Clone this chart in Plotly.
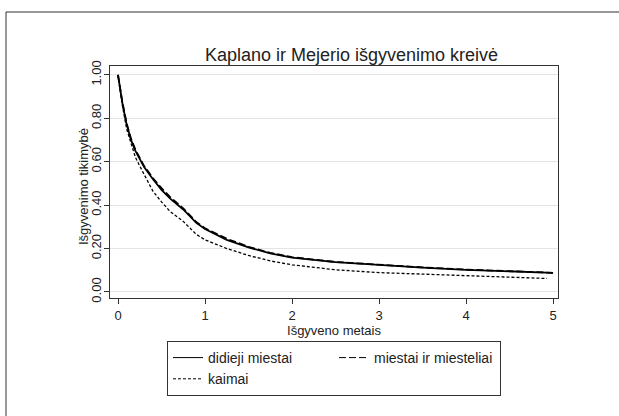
import plotly.graph_objects as go

# Time (years) and survival estimates
t = [0, 0.02, 0.05, 0.1, 0.15, 0.2, 0.25, 0.3, 0.4, 0.5, 0.6, 0.75, 0.9, 1.0,
     1.25, 1.5, 1.75, 2.0, 2.5, 3.0, 3.5, 4.0, 4.5, 5.0]
didieji = [1.0, 0.95, 0.87, 0.77, 0.70, 0.65, 0.61, 0.575, 0.52, 0.47, 0.43, 0.38,
           0.318, 0.29, 0.24, 0.205, 0.178, 0.158, 0.137, 0.124, 0.112, 0.102, 0.095, 0.088]
miestai = [1.0, 0.95, 0.875, 0.775, 0.705, 0.655, 0.615, 0.58, 0.525, 0.478, 0.437, 0.385,
           0.322, 0.293, 0.245, 0.208, 0.18, 0.16, 0.138, 0.125, 0.113, 0.103, 0.095, 0.088]
t_k = [0, 0.02, 0.05, 0.1, 0.15, 0.2, 0.25, 0.3, 0.4, 0.5, 0.6, 0.75, 0.9, 1.0,
       1.25, 1.5, 1.75, 2.0, 2.5, 3.0, 3.5, 4.0, 4.5, 4.93]
kaimai = [1.0, 0.94, 0.86, 0.75, 0.68, 0.62, 0.58, 0.54, 0.465, 0.415, 0.37, 0.325,
          0.265, 0.24, 0.2, 0.168, 0.143, 0.125, 0.102, 0.089, 0.082, 0.075, 0.069, 0.062]

series_names = ["didieji miestai", "miestai ir miesteliai", "kaimai"]
x_ticks = [0, 1, 2, 3, 4, 5]
y_ticks = [0, 0.2, 0.4, 0.6, 0.8, 1.0]
y_labels = ["0.00", "0.20", "0.40", "0.60", "0.80", "1.00"]

FONT = "Liberation Sans, Arial, sans-serif"
dashes = ["solid", "7px,3px", "3px,2px"]
widths = [1.8, 1.8, 1.3]

fig = go.Figure()
for xs, ys, name, d, w in zip([t, t, t_k], [didieji, miestai, kaimai],
                              series_names, dashes, widths):
    fig.add_trace(go.Scatter(x=xs, y=ys, mode="lines", name=name,
                             showlegend=False, hoverinfo="skip",
                             line=dict(color="black", width=w, dash=d)))
# thin legend samples
for name, d in zip(series_names, dashes):
    fig.add_trace(go.Scatter(x=[None], y=[None], mode="lines", name=name,
                             line=dict(color="black", width=1, dash=d)))

L, R, T, B = 110, 61, 66, 118
W, H = 619, 416
pw, ph = W - L - R, H - T - B

def px_x(p):
    return (p - L) / pw

def px_y(p):
    return (H - B - p) / ph

fig.update_layout(
    width=W, height=H,
    margin=dict(l=L, r=R, t=T, b=B, autoexpand=False),
    paper_bgcolor="white", plot_bgcolor="white",
    font=dict(family=FONT, size=13, color="#222"),
    title=dict(text="Kaplano ir Mejerio išgyvenimo kreivė",
               x=351.5 / W, xref="container", xanchor="center",
               y=1 - 55 / H, yref="container", yanchor="middle",
               font=dict(family=FONT, size=18, color="#222")),
    showlegend=True,
    legend=dict(orientation="h", x=0.5, xanchor="center",
                y=px_y(341), yanchor="top",
                entrywidth=121, entrywidthmode="pixels",
                bordercolor="#333", borderwidth=1,
                font=dict(family=FONT, size=14, color="#222"),
                tracegroupgap=0),
    xaxis=dict(range=[-0.092, 5.057], tickvals=x_ticks, ticks="outside",
               ticklen=5, tickcolor="#333", showline=True, linecolor="#333",
               linewidth=1, mirror=True, showgrid=False, zeroline=False,
               title=dict(text="Išgyveno metais", standoff=0,
                          font=dict(size=13)),
               tickfont=dict(size=13)),
    yaxis=dict(range=[-0.028, 1.041], tickvals=y_ticks, ticktext=y_labels,
               tickangle=-90, ticks="outside", ticklen=5, tickcolor="#333",
               ticklabelstandoff=-2,
               showline=True, linecolor="#333", linewidth=1, mirror=True,
               showgrid=True, gridcolor="#e4e4e4", gridwidth=1, zeroline=False,
               tickfont=dict(size=13)),
)

# y-axis title placed as annotation
fig.add_annotation(text="Išgyvenimo tikimybė", textangle=-90,
                   xref="paper", yref="paper", x=px_x(83), y=px_y(187),
                   xanchor="center", yanchor="middle", showarrow=False,
                   font=dict(family=FONT, size=13, color="#222"))

# Outer graph frame (top and left edges visible)
fig.add_shape(type="line", xref="paper", yref="paper",
              x0=px_x(6), x1=px_x(619), y0=px_y(12), y1=px_y(12),
              line=dict(color="#333", width=1), layer="below")
fig.add_shape(type="line", xref="paper", yref="paper",
              x0=px_x(6), x1=px_x(6), y0=px_y(12), y1=px_y(416),
              line=dict(color="#333", width=1), layer="below")

fig.write_html("out.html", config={"displayModeBar": False},
               post_script="document.body.style.margin='0';document.body.style.overflow='hidden';")
